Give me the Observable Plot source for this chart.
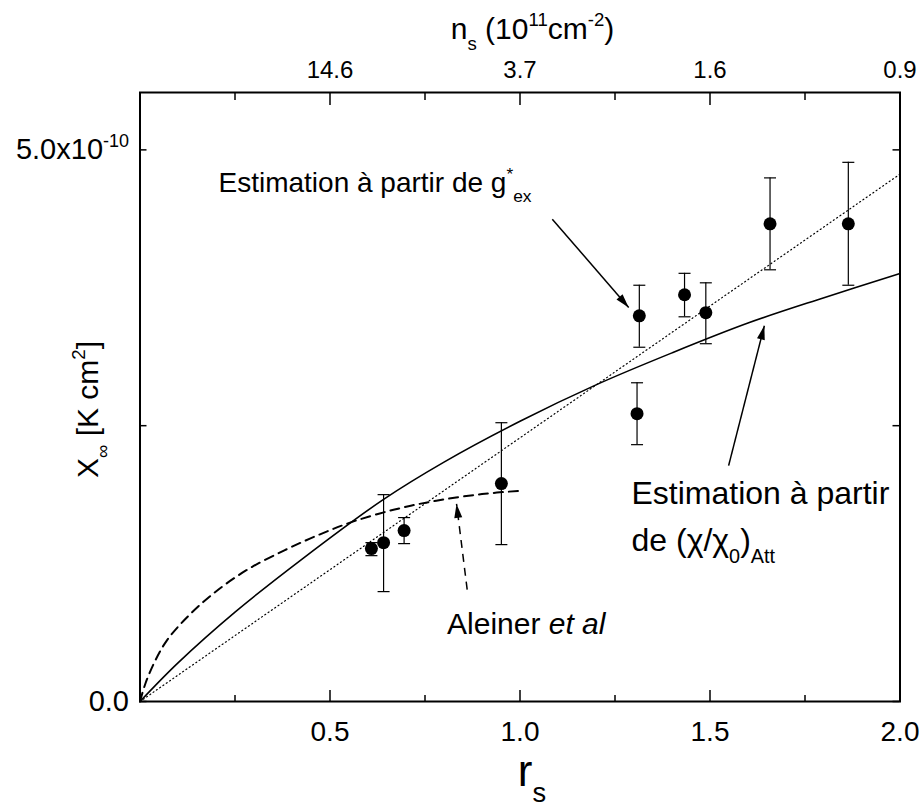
<!DOCTYPE html>
<html><head><meta charset="utf-8">
<script src="https://cdn.jsdelivr.net/npm/d3@7"></script>
<script src="https://cdn.jsdelivr.net/npm/@observablehq/plot@0.6"></script>
<style>body{margin:0;background:#fff}</style>
</head><body><div id="chart"></div>
<script>
// Measured points (r_s, X_inf in units of 1e-10 K cm^2)
const ptRs   = [0.609, 0.641, 0.695, 0.951, 1.308, 1.314, 1.433, 1.489, 1.658, 1.864];
const ptChi  = [1.386, 1.440, 1.549, 1.975, 2.609, 3.496, 3.687, 3.524, 4.330, 4.330];
const ptLo   = [1.322, 0.996, 1.431, 1.422, 2.328, 3.211, 3.487, 3.243, 3.913, 3.773];
const ptHi   = [1.440, 1.875, 1.667, 2.527, 2.889, 3.773, 3.881, 3.795, 4.746, 4.887];

// Solid curve: estimation from (chi/chi0)_Att
const solidRs  = [0, 0.1, 0.25, 0.43, 0.64, 0.8, 1.0, 1.2, 1.4, 1.6, 1.8, 2.0];
const solidChi = [0, 0.35, 0.81, 1.30, 1.83, 2.17, 2.54, 2.87, 3.16, 3.43, 3.66, 3.88];
// Dashed curve: Aleiner et al
const dashRs  = [0, 0.015, 0.04, 0.07, 0.12, 0.19, 0.28, 0.38, 0.47, 0.56, 0.67, 0.78, 0.9, 1.0];
const dashChi = [0, 0.17, 0.37, 0.55, 0.75, 0.97, 1.19, 1.37, 1.51, 1.63, 1.74, 1.82, 1.88, 1.91];
// Dotted line: estimation from g*_ex
const dotRs  = [0, 2.0];
const dotChi = [0, 4.78];

// Axes
const xMajor = [0.5, 1.0, 1.5, 2.0];
const xMinor = [0.25, 0.75, 1.25, 1.75];
const xTickLabels = ["0.5", "1.0", "1.5", "2.0"];
const topTickLabels = ["14.6", "3.7", "1.6", "0.9"];
const yMajor = [0, 2.5, 5.0];
const yLabelValues = [0, 5.0];
const yTickLabels = ["0.0", "5.0x10^{-10}"];
const xTitle = "r_{s}";
const yTitle = "X_{∞} [K cm^{2}]";
const topTitle = "n_{s} (10^{11}cm^{-2})";

// Annotations
const annoText = ["Estimation à partir de g^{*}_{ex}", "Estimation à partir", "de (χ/χ_{0})_{Att}", "Aleiner ~{et al}"];
const annoX = [0.2066, 1.2934, 1.2934, 0.808];
const annoY = [4.62, 1.793, 1.368, 0.616];
const annoSize = [28, 32, 32, 30];
const arrowX1 = [1.085, 1.549];
const arrowY1 = [4.372, 2.138];
const arrowX2 = [1.286, 1.643];
const arrowY2 = [3.572, 3.406];
const dArrowX1 = [0.861], dArrowY1 = [1.014], dArrowX2 = [0.833], dArrowY2 = [1.791];

const W = 919, H = 808, mL = 139.5, mR = 19.5, mT = 92, mB = 107;
const fw = W - mL - mR, fh = H - mT - mB;

const pts = ptRs.map((r, i) => ({r, c: ptChi[i], lo: ptLo[i], hi: ptHi[i]}));
const solid = solidRs.map((r, i) => ({r, c: solidChi[i]}));
const dash = dashRs.map((r, i) => ({r, c: dashChi[i]}));
const dotted = dotRs.map((r, i) => ({r, c: dotChi[i]}));
const anno = annoText.map((t, i) => ({t, x: annoX[i], y: annoY[i], s: annoSize[i]}));

const capSymbol = {draw(ctx, size) { const r = Math.sqrt(size / Math.PI); ctx.moveTo(-r, 0); ctx.lineTo(r, 0); }};

const chart = Plot.plot({
  width: W, height: H,
  marginLeft: mL, marginRight: mR, marginTop: mT, marginBottom: mB,
  x: {domain: [0, 2], axis: null},
  y: {domain: [0, 5.52], axis: null},
  style: {fontFamily: "'Liberation Sans', Arial, Helvetica, sans-serif", background: "white", color: "black"},
  marks: [
    // ticks (inward)
    Plot.tickX(xMajor, {x: d => d, insetTop: fh - 11, strokeWidth: 1.5}),
    Plot.tickX(xMinor, {x: d => d, insetTop: fh - 6, strokeWidth: 1.5}),
    Plot.tickX(xMajor, {x: d => d, insetBottom: fh - 13, strokeWidth: 1.5}),
    Plot.tickX(xMinor, {x: d => d, insetBottom: fh - 8, strokeWidth: 1.5}),
    Plot.tickY(yMajor, {y: d => d, insetRight: fw - 7, strokeWidth: 1.5}),
    Plot.tickY(yMajor, {y: d => d, insetLeft: fw - 7, strokeWidth: 1.5}),
    // curves
    Plot.line(dotted, {x: "r", y: "c", stroke: "black", strokeWidth: 1.2, strokeDasharray: "1,3"}),
    Plot.line(solid, {x: "r", y: "c", stroke: "black", strokeWidth: 1.6, curve: "catmull-rom"}),
    Plot.line(dash, {x: "r", y: "c", stroke: "black", strokeWidth: 2, strokeDasharray: "9,6", curve: "catmull-rom"}),
    // error bars
    Plot.ruleX(pts, {x: "r", y1: "lo", y2: "hi", stroke: "black", strokeWidth: 1.2}),
    Plot.dot(pts, {x: "r", y: "lo", symbol: capSymbol, r: 6, stroke: "black", strokeWidth: 1.2, fill: "none"}),
    Plot.dot(pts, {x: "r", y: "hi", symbol: capSymbol, r: 6, stroke: "black", strokeWidth: 1.2, fill: "none"}),
    Plot.dot(pts, {x: "r", y: "c", r: 6.5, fill: "black", stroke: "none"}),
    // arrows
    Plot.link(arrowX1, {x1: arrowX1, y1: arrowY1, x2: arrowX2, y2: arrowY2, stroke: "black", strokeWidth: 1.5, markerEnd: "arrow"}),
    Plot.link(dArrowX1, {x1: dArrowX1, y1: dArrowY1, x2: dArrowX2, y2: dArrowY2, stroke: "black", strokeWidth: 1.5, strokeDasharray: "8,6", markerEnd: "arrow"}),
    // frame
    Plot.frame({stroke: "black", strokeWidth: 2}),
    // tick labels
    Plot.text(xTickLabels, {x: (d, i) => xMajor[i], text: d => d, frameAnchor: "bottom", dy: 39, lineAnchor: "bottom", fontSize: 28}),
    Plot.text(topTickLabels, {x: (d, i) => xMajor[i], text: d => d, frameAnchor: "top", dy: -15, lineAnchor: "bottom", fontSize: 24}),
    Plot.text(yTickLabels, {y: (d, i) => yLabelValues[i], text: d => d, frameAnchor: "left", textAnchor: "end", dx: -11, fontSize: 29}),
    // titles
    Plot.text([topTitle], {text: d => d, frameAnchor: "top", dx: 12.5, dy: -54, lineAnchor: "bottom", fontSize: 30}),
    Plot.text([xTitle], {text: d => d, frameAnchor: "bottom", dx: 12, dy: 84, lineAnchor: "bottom", fontSize: 44}),
    Plot.text([yTitle], {text: d => d, frameAnchor: "left", textAnchor: "middle", dx: -42.5, dy: 12.5, rotate: -90, lineAnchor: "bottom", fontSize: 30}),
    // annotations
    Plot.text(anno, {x: "x", y: "y", text: "t", fontSize: "s", textAnchor: "start", lineAnchor: "bottom"})
  ]
});

document.getElementById("chart").appendChild(chart);

// filled arrow heads
d3.select(chart).selectAll("marker")
  .attr("viewBox", "-16 -6 18 12")
  .attr("markerWidth", 18).attr("markerHeight", 12)
  .attr("markerUnits", "userSpaceOnUse")
  .attr("refX", 0).attr("refY", 0)
  .attr("fill", "black").attr("stroke", "none")
  .selectAll("path")
  .attr("d", "M-14,-4L0,0L-14,4Z")
  .attr("fill", "black").attr("stroke", "none");

// rich text: ^{sup}, _{sub}, ~{italic}
d3.select(chart).selectAll("text").each(function() {
  const t = this.textContent;
  if (!/[\^_~]\{/.test(t)) return;
  const fs = parseFloat(getComputedStyle(this).fontSize) || 28;
  this.textContent = "";
  const re = /([\^_~])\{([^}]*)\}|([^\^_~]+)/g;
  let m, level = 0;
  const NS = "http://www.w3.org/2000/svg";
  while ((m = re.exec(t)) !== null) {
    const ts = document.createElementNS(NS, "tspan");
    let shift = 0, size = fs, style = null;
    if (m[3] !== undefined) { ts.textContent = m[3]; }
    else {
      ts.textContent = m[2];
      if (m[1] === "^") { shift = -0.42 * fs; size = 0.62 * fs; }
      else if (m[1] === "_") { shift = 0.38 * fs; size = 0.62 * fs; }
      else { style = "italic"; }
    }
    const dy = shift - level;
    if (dy !== 0) ts.setAttribute("dy", dy.toFixed(2));
    ts.setAttribute("font-size", size.toFixed(2));
    if (style) ts.setAttribute("font-style", style);
    level = shift;
    this.appendChild(ts);
  }
});
</script>
</body></html>
